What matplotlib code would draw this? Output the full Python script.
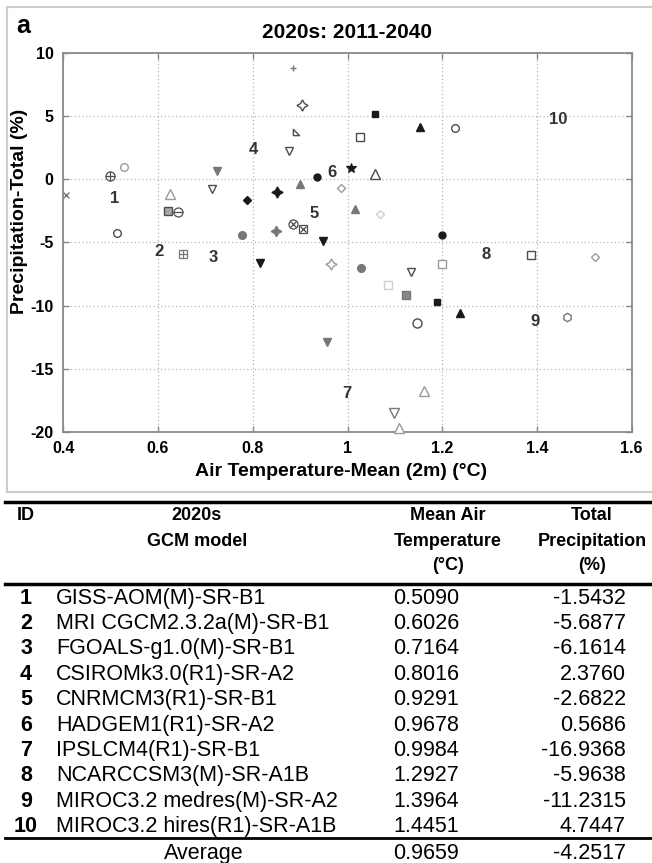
import matplotlib
matplotlib.use('Agg')
import matplotlib.pyplot as plt
from matplotlib import font_manager
from matplotlib.lines import Line2D

W, H = 652, 863

# ---- table data (10 GCM runs) ----
model_id = ['1', '2', '3', '4', '5', '6', '7', '8', '9', '10']
model_name = ['GISS-AOM(M)-SR-B1', 'MRI CGCM2.3.2a(M)-SR-B1', 'FGOALS-g1.0(M)-SR-B1',
              'CSIROMk3.0(R1)-SR-A2', 'CNRMCM3(R1)-SR-B1', 'HADGEM1(R1)-SR-A2',
              'IPSLCM4(R1)-SR-B1', 'NCARCCSM3(M)-SR-A1B', 'MIROC3.2 medres(M)-SR-A2',
              'MIROC3.2 hires(R1)-SR-A1B']
mean_temp = [0.5090, 0.6026, 0.7164, 0.8016, 0.9291, 0.9678, 0.9984, 1.2927, 1.3964, 1.4451]
total_precip = [-1.5432, -5.6877, -6.1614, 2.3760, -2.6822, 0.5686, -16.9368, -5.9638, -11.2315, 4.7447]
avg_temp = 0.9659
avg_precip = -4.2517

# ---- all scatter points ----
pt_x = [0.885, 0.903, 0.892, 0.876, 0.406, 0.499, 0.529, 0.513, 0.625, 0.620,
        0.643, 0.724, 0.713, 0.787, 0.778, 0.852, 0.899, 0.935, 0.986, 0.849,
        0.885, 0.906, 0.949, 1.008, 1.058, 1.026, 1.058, 1.153, 1.228, 1.015,
        1.068, 1.200, 0.653, 0.815, 0.966, 0.956, 1.028, 1.135, 1.086, 1.123,
        1.188, 1.200, 1.238, 1.147, 1.387, 1.522, 1.464, 1.161, 1.098, 1.108]
pt_y = [8.85, 5.94, 3.78, 2.25, -1.24, 0.29, 0.98, -4.28, -1.19, -2.51,
        -2.61, 0.67, -0.79, -1.63, -4.41, -1.03, -0.34, 0.16, -0.71, -4.09,
        -3.53, -3.93, -4.90, 0.87, 5.21, 3.36, 0.40, 4.15, 4.07, -2.35,
        -2.74, -4.41, -5.91, -6.60, -6.71, -12.86, -7.05, -7.31, -8.37, -9.19,
        -9.71, -6.73, -10.62, -11.41, -5.99, -6.13, -10.88, -16.74, -18.49, -19.73]
pt_sym = ['plus_mid', 'star_open', 'rtri_open', 'down_open', 'cross_mid', 'oplus', 'circ_open_lt',
          'circ_open', 'up_open_lt', 'sq_grey', 'ominus', 'down_mid', 'down_open', 'diam_blk',
          'circ_mid', 'star_blk', 'up_mid', 'circ_blk', 'diam_open_lt', 'star_mid', 'otimes',
          'sqtimes', 'down_blk', 'ast_blk', 'sq_blk', 'sq_open', 'up_open', 'up_blk', 'circ_open',
          'up_mid', 'diam_pale', 'circ_blk', 'sqplus', 'down_blk', 'star_open_lt', 'down_mid',
          'circ_mid', 'down_open', 'sq_pale', 'sq_mid', 'sq_blk', 'sq_open_lt', 'up_blk',
          'circ_open_big', 'sq_open', 'diam_open_lt', 'hex_open', 'up_open_lt', 'down_open_lt',
          'up_open_lt']

xticks = [0.4, 0.6, 0.8, 1.0, 1.2, 1.4, 1.6]
yticks = [-20, -15, -10, -5, 0, 5, 10]

# marker looks: list of layers (marker, size, face, edge, edge width)
BLK, DRK, MID, LT, PALE = '#1a1a1a', '#4d4d4d', '#777777', '#9a9a9a', '#cfcfcf'
RTRI = [(-1, -1), (1, -1), (-1, 1), (-1, -1)]
STAR4 = (4, 1, 0)
SYMBOLS = {
    'plus_mid': [('+', 5, 'none', MID, 1.0)],
    'star_open': [(STAR4, 8, 'white', DRK, 1.0)],
    'star_open_lt': [(STAR4, 8, 'white', LT, 1.0)],
    'star_blk': [(STAR4, 8, BLK, BLK, 1.0)],
    'star_mid': [(STAR4, 7.5, MID, MID, 1.0)],
    'rtri_open': [(RTRI, 4.5, 'white', DRK, 1.0)],
    'down_open': [('v', 6, 'white', DRK, 1.0)],
    'down_open_lt': [('v', 6.5, 'white', MID, 1.0)],
    'down_mid': [('v', 6, MID, MID, 1.0)],
    'down_blk': [('v', 6, BLK, BLK, 1.0)],
    'up_open': [('^', 6.5, 'white', DRK, 1.0)],
    'up_open_lt': [('^', 6.5, 'white', LT, 1.0)],
    'up_mid': [('^', 6, MID, MID, 1.0)],
    'up_blk': [('^', 6, BLK, BLK, 1.0)],
    'cross_mid': [('x', 4, 'none', MID, 1.0)],
    'oplus': [('o', 6.5, 'white', DRK, 0.9), ('+', 6.5, 'none', DRK, 0.9)],
    'ominus': [('o', 6.5, 'white', DRK, 0.9), ('_', 6.5, 'none', DRK, 0.9)],
    'otimes': [('o', 6.5, 'white', DRK, 0.9), ('x', 4.5, 'none', DRK, 0.9)],
    'sqtimes': [('s', 6, 'white', DRK, 0.9), ('x', 4, 'none', DRK, 0.9)],
    'sqplus': [('s', 6, 'white', MID, 0.9), ('+', 6, 'none', MID, 0.9)],
    'circ_open': [('o', 5.5, 'white', DRK, 1.0)],
    'circ_open_lt': [('o', 5.5, 'white', LT, 1.0)],
    'circ_open_big': [('o', 6.5, 'white', DRK, 1.0)],
    'circ_mid': [('o', 5.5, MID, MID, 1.0)],
    'circ_blk': [('o', 5, BLK, BLK, 1.0)],
    'diam_blk': [('D', 4.5, BLK, BLK, 1.0)],
    'diam_open_lt': [('D', 4.5, 'white', LT, 1.0)],
    'diam_pale': [('D', 4.5, 'white', PALE, 1.0)],
    'ast_blk': [('*', 7.5, BLK, BLK, 0.8)],
    'sq_blk': [('s', 5, BLK, BLK, 1.0)],
    'sq_open': [('s', 5.5, 'white', DRK, 1.0)],
    'sq_open_lt': [('s', 5.5, 'white', LT, 1.0)],
    'sq_pale': [('s', 5.5, 'white', PALE, 1.0)],
    'sq_grey': [('s', 6, '#a8a8a8', DRK, 1.0)],
    'sq_mid': [('s', 5.5, '#888888', MID, 1.0)],
    'hex_open': [('h', 6, 'white', MID, 1.0)],
}

avail = {f.name for f in font_manager.fontManager.ttflist}
if 'Liberation Sans Narrow' in avail:
    NARROW, hsize, nsize = 'Liberation Sans Narrow', 14, 13
else:
    NARROW, hsize, nsize = 'Liberation Sans', 13, 12

plt.rcParams['font.family'] = ['Liberation Sans', 'DejaVu Sans']
plt.rcParams['axes.unicode_minus'] = False


def fx(px):
    return px / W


def fy(py):
    return 1 - py / H


fig = plt.figure(figsize=(W / 100, H / 100), dpi=100)
ax = fig.add_axes([fx(63.3), fy(431.7), fx(631.7) - fx(63.3), fy(53.3) - fy(431.7)])

for x, y, key in zip(pt_x, pt_y, pt_sym):
    for mk, ms, fc, ec, mew in SYMBOLS[key]:
        ax.plot(x, y, linestyle='none', marker=mk, markersize=ms, markerfacecolor=fc,
                markeredgecolor=ec, markeredgewidth=mew, clip_on=False, zorder=3)

# model numbers at their mean values
for i, lab in enumerate(model_id):
    ax.text(mean_temp[i], total_precip[i], lab, ha='center', va='center', color='#333333',
            fontsize=nsize, fontweight='bold', family=NARROW, zorder=4)

ax.set_xlim(0.4, 1.6)
ax.set_ylim(-20, 10)
ax.set_xticks(xticks)
ax.set_xticklabels(['%g' % t for t in xticks])
ax.set_yticks(yticks)
ax.set_yticklabels(['%g' % t for t in yticks])
ax.grid(True, linestyle=(0, (1, 2)), color='#b5b5b5', linewidth=0.9)
ax.tick_params(direction='in', top=True, right=True, length=4, width=1, color='#888888',
               labelsize=11.5, pad=7)
for lbl in ax.get_xticklabels() + ax.get_yticklabels():
    lbl.set_fontweight('bold')
for s in ax.spines.values():
    s.set_color('#8a8a8a')
    s.set_linewidth(1.3)

fig.text(fx(347), fy(33), '2020s: 2011-2040', ha='center', va='center', fontsize=15, fontweight='bold')
fig.text(fx(16), fy(26), 'a', ha='left', va='center', fontsize=18, fontweight='bold')
fig.text(fx(20), fy(211), 'Precipitation-Total (%)', ha='center', va='center', rotation=90,
         fontsize=14, fontweight='bold')
fig.text(fx(341), fy(471), 'Air Temperature-Mean (2m) (°C)', ha='center', va='center',
         fontsize=14, fontweight='bold')

# light frame round the chart panel
fig.add_artist(Line2D([fx(7), fx(7), fx(652)], [fy(492), fy(7), fy(7)], color='#cccccc', lw=1.5))
fig.add_artist(Line2D([fx(7), fx(652)], [fy(492), fy(492)], color='#cccccc', lw=1.5))

# ---- table ----
fig.add_artist(Line2D([fx(5), fx(652)], [fy(502), fy(502)], color='black', lw=2.5))
fig.text(fx(17), fy(516), 'ID', ha='left', va='center', fontsize=hsize, fontweight='bold', family=NARROW)
fig.text(fx(197), fy(516), '2020s', ha='center', va='center', fontsize=hsize, fontweight='bold', family=NARROW)
fig.text(fx(197), fy(541), 'GCM model', ha='center', va='center', fontsize=hsize, fontweight='bold', family=NARROW)
for j, t in enumerate(['Mean Air', 'Temperature', '(°C)']):
    fig.text(fx(448), fy(516 + 25 * j), t, ha='center', va='center', fontsize=hsize,
             fontweight='bold', family=NARROW)
for j, t in enumerate(['Total', 'Precipitation', '(%)']):
    fig.text(fx(592), fy(516 + 25 * j), t, ha='center', va='center', fontsize=hsize,
             fontweight='bold', family=NARROW)
fig.add_artist(Line2D([fx(5), fx(652)], [fy(584), fy(584)], color='black', lw=2.5))

bsize = 15.5
for i in range(len(model_id)):
    yy = fy(598 + 25.4 * i)
    fig.text(fx(26), yy, model_id[i], ha='center', va='center', fontsize=bsize, fontweight='bold')
    fig.text(fx(56), yy, model_name[i], ha='left', va='center', fontsize=bsize)
    fig.text(fx(459), yy, '%.4f' % mean_temp[i], ha='right', va='center', fontsize=bsize)
    fig.text(fx(626), yy, '%.4f' % total_precip[i], ha='right', va='center', fontsize=bsize)

fig.add_artist(Line2D([fx(5), fx(652)], [fy(838), fy(838)], color='black', lw=2))
fig.text(fx(204), fy(853), 'Average', ha='center', va='center', fontsize=bsize)
fig.text(fx(459), fy(853), '%.4f' % avg_temp, ha='right', va='center', fontsize=bsize)
fig.text(fx(626), fy(853), '%.4f' % avg_precip, ha='right', va='center', fontsize=bsize)

fig.savefig('out.png', dpi=100)
